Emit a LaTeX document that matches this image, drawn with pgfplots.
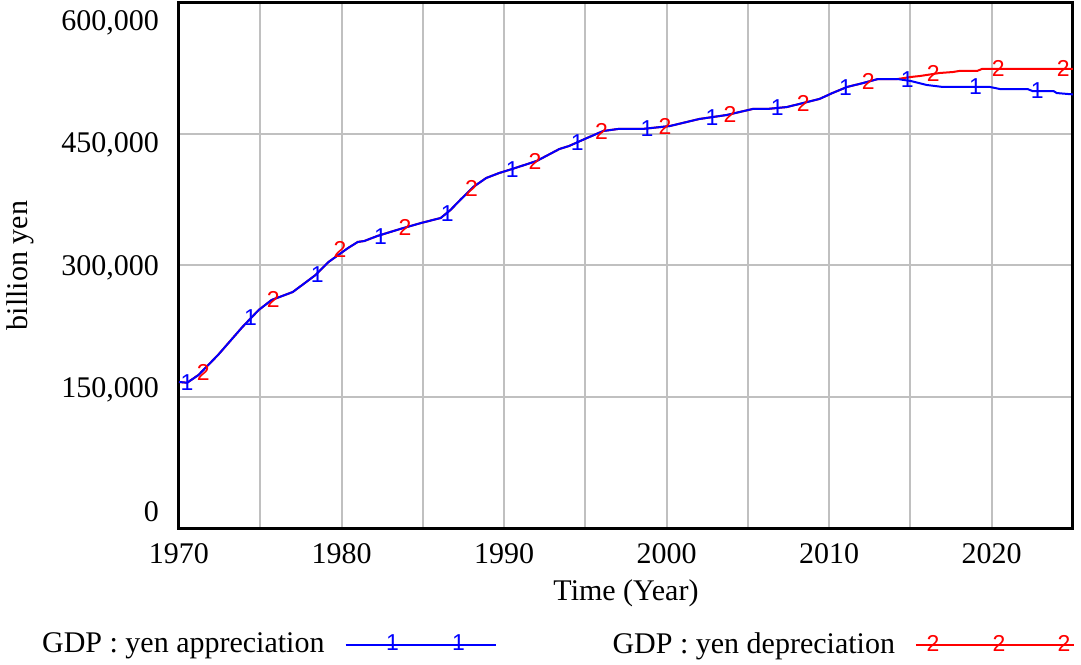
\documentclass[border=0pt]{standalone}
\usepackage{fontspec}
\setmainfont{Liberation Serif}
\newfontfamily\sansf{Liberation Sans}
\usepackage{pgfplots}
\pgfplotsset{compat=1.18}
\definecolor{gridgray}{RGB}{192,192,192}
\definecolor{vblue}{RGB}{0,0,255}
\definecolor{vred}{RGB}{255,0,0}
\newcommand\mkfont{\sansf\fontsize{11.5}{13}\selectfont}
\newcommand\lblfont{\fontsize{15}{18}\selectfont}
\begin{document}
\begin{tikzpicture}
\begin{axis}[
  scale only axis, width=447pt, height=262.5pt,
  xmin=1970, xmax=2025, ymin=0, ymax=600000,
  xtick={1970,1980,...,2020}, minor xtick={1975,1985,...,2015},
  ytick={0,150000,300000,450000,600000},
  grid=both,
  major grid style={draw=gridgray, line width=1pt},
  minor grid style={draw=gridgray, line width=1pt},
  major tick length=0pt, minor tick length=0pt,
  axis line style={line width=1.5pt},
  tick label style={font=\lblfont},
  label style={font=\lblfont},
  /pgf/number format/assume math mode=true,
  xticklabel style={/pgf/number format/1000 sep={}, yshift=-4pt},
  scaled y ticks=false,
  yticklabel style={/pgf/number format/fixed, /pgf/number format/1000 sep={,}, xshift=-6.5pt, yshift={(2-\ticknum)*4.5pt-1pt}},
  xlabel={Time (Year)},
  xlabel style={at={(axis description cs:0.5,-0.124)}, anchor=center},
  ylabel={billion yen},
  ylabel style={at={(axis description cs:-0.178,0.5)}, anchor=center},
  legend columns=2,
  reverse legend,
  legend plot pos=right,
  legend style={draw=none, fill=none, font=\lblfont, at={(axis description cs:-0.158,-0.222)}, anchor=west, inner sep=0pt,
    /tikz/every even column/.append style={column sep=56pt},
    /tikz/every odd column/.append style={column sep=8pt}},
]
\addplot[vred, line width=1pt,
  legend image code/.code={
    \draw[vred, line width=1pt] (0pt,0pt) -- (79pt,0pt);
    \node[text=vred, font=\mkfont, inner sep=0pt] at (8.5pt,0pt) {2};
    \node[text=vred, font=\mkfont, inner sep=0pt] at (41.5pt,0pt) {2};
    \node[text=vred, font=\mkfont, inner sep=0pt] at (74pt,0pt) {2};
  }] coordinates {
(1970,166900) (1970.5,166000) (1971.2,174900) (1972.4,197700) (1973.9,229700) (1974.9,249100) (1975.7,260600) (1977.0,269700) (1978.4,289100) (1979.2,304000) (1980.4,320000) (1981.0,326900) (1981.4,328000) (1982.2,333700) (1983.6,341700) (1984.9,348600) (1986.1,354300) (1986.7,363400) (1987.3,374900) (1988.1,389700) (1988.9,400000) (1989.7,405700) (1990.5,410300) (1992.0,419400) (1993.4,433100) (1994.0,436600) (1995.1,445700) (1996.1,453700) (1997.0,456000) (1998.5,456000) (2000.2,459400) (2002.0,467400) (2003.7,472000) (2005.3,478900) (2006.2,478900) (2007.4,481100) (2008.4,485700) (2009.4,490300) (2010.2,497100) (2011.1,504000) (2012.1,508600) (2013.0,513100) (2014.2,513100) (2015.0,515400) (2015.6,516600) (2016.8,520000) (2017.6,521100) (2018.0,522300) (2019.1,522300) (2019.4,524600) (2025,524600)
};
\addlegendentry{GDP : yen depreciation}
\addplot[vblue, line width=1pt,
  legend image code/.code={
    \draw[vblue, line width=1pt] (0pt,0pt) -- (75pt,0pt);
    \node[text=vblue, font=\mkfont, inner sep=0pt] at (23.5pt,0pt) {1};
    \node[text=vblue, font=\mkfont, inner sep=0pt] at (56.5pt,0pt) {1};
  }] coordinates {
(1970,166900) (1970.5,166000) (1971.2,174900) (1972.4,197700) (1973.9,229700) (1974.9,249100) (1975.7,260600) (1977.0,269700) (1978.4,289100) (1979.2,304000) (1980.4,320000) (1981.0,326900) (1981.4,328000) (1982.2,333700) (1983.6,341700) (1984.9,348600) (1986.1,354300) (1986.7,363400) (1987.3,374900) (1988.1,389700) (1988.9,400000) (1989.7,405700) (1990.5,410300) (1992.0,419400) (1993.4,433100) (1994.0,436600) (1995.1,445700) (1996.1,453700) (1997.0,456000) (1998.5,456000) (2000.2,459400) (2002.0,467400) (2003.7,472000) (2005.3,478900) (2006.2,478900) (2007.4,481100) (2008.4,485700) (2009.4,490300) (2010.2,497100) (2011.1,504000) (2012.1,508600) (2013.0,513100) (2014.2,513100) (2015.0,510900) (2016.0,506300) (2017.0,504000) (2019.9,504000) (2020.5,501700) (2022.2,501700) (2022.5,499400) (2023.8,499400) (2024.0,497100) (2025,495500)
};
\addlegendentry{GDP : yen appreciation}
\addplot[only marks, mark=text, text mark={2}, text mark as node=true, text mark style={font=\mkfont, text=vred, inner sep=0pt, anchor=center}, forget plot] coordinates {
(1971.5,178000) (1975.8,261000) (1979.9,318000) (1983.9,344000) (1988.0,388000) (1991.9,419000) (1996.0,453000) (1999.9,459000) (2003.9,472500) (2008.4,485700) (2012.4,510000) (2016.4,519000) (2020.4,524600) (2024.4,524600)
};
\addplot[only marks, mark=text, text mark={1}, text mark as node=true, text mark style={font=\mkfont, text=vblue, inner sep=0pt, anchor=center}, forget plot] coordinates {
(1970.5,166000) (1974.4,240000) (1978.5,290000) (1982.4,333000) (1986.5,359000) (1990.5,410000) (1994.5,440000) (1998.8,456000) (2002.8,469500) (2006.8,480000) (2011.0,503000) (2014.8,512000) (2019.0,504000) (2022.8,500000)
};
\end{axis}
\pgfresetboundingbox
\path[use as bounding box] ([xshift=-89.5pt,yshift=-68pt]current axis.south west) rectangle ++(540.5pt,332pt);
\end{tikzpicture}
\end{document}
